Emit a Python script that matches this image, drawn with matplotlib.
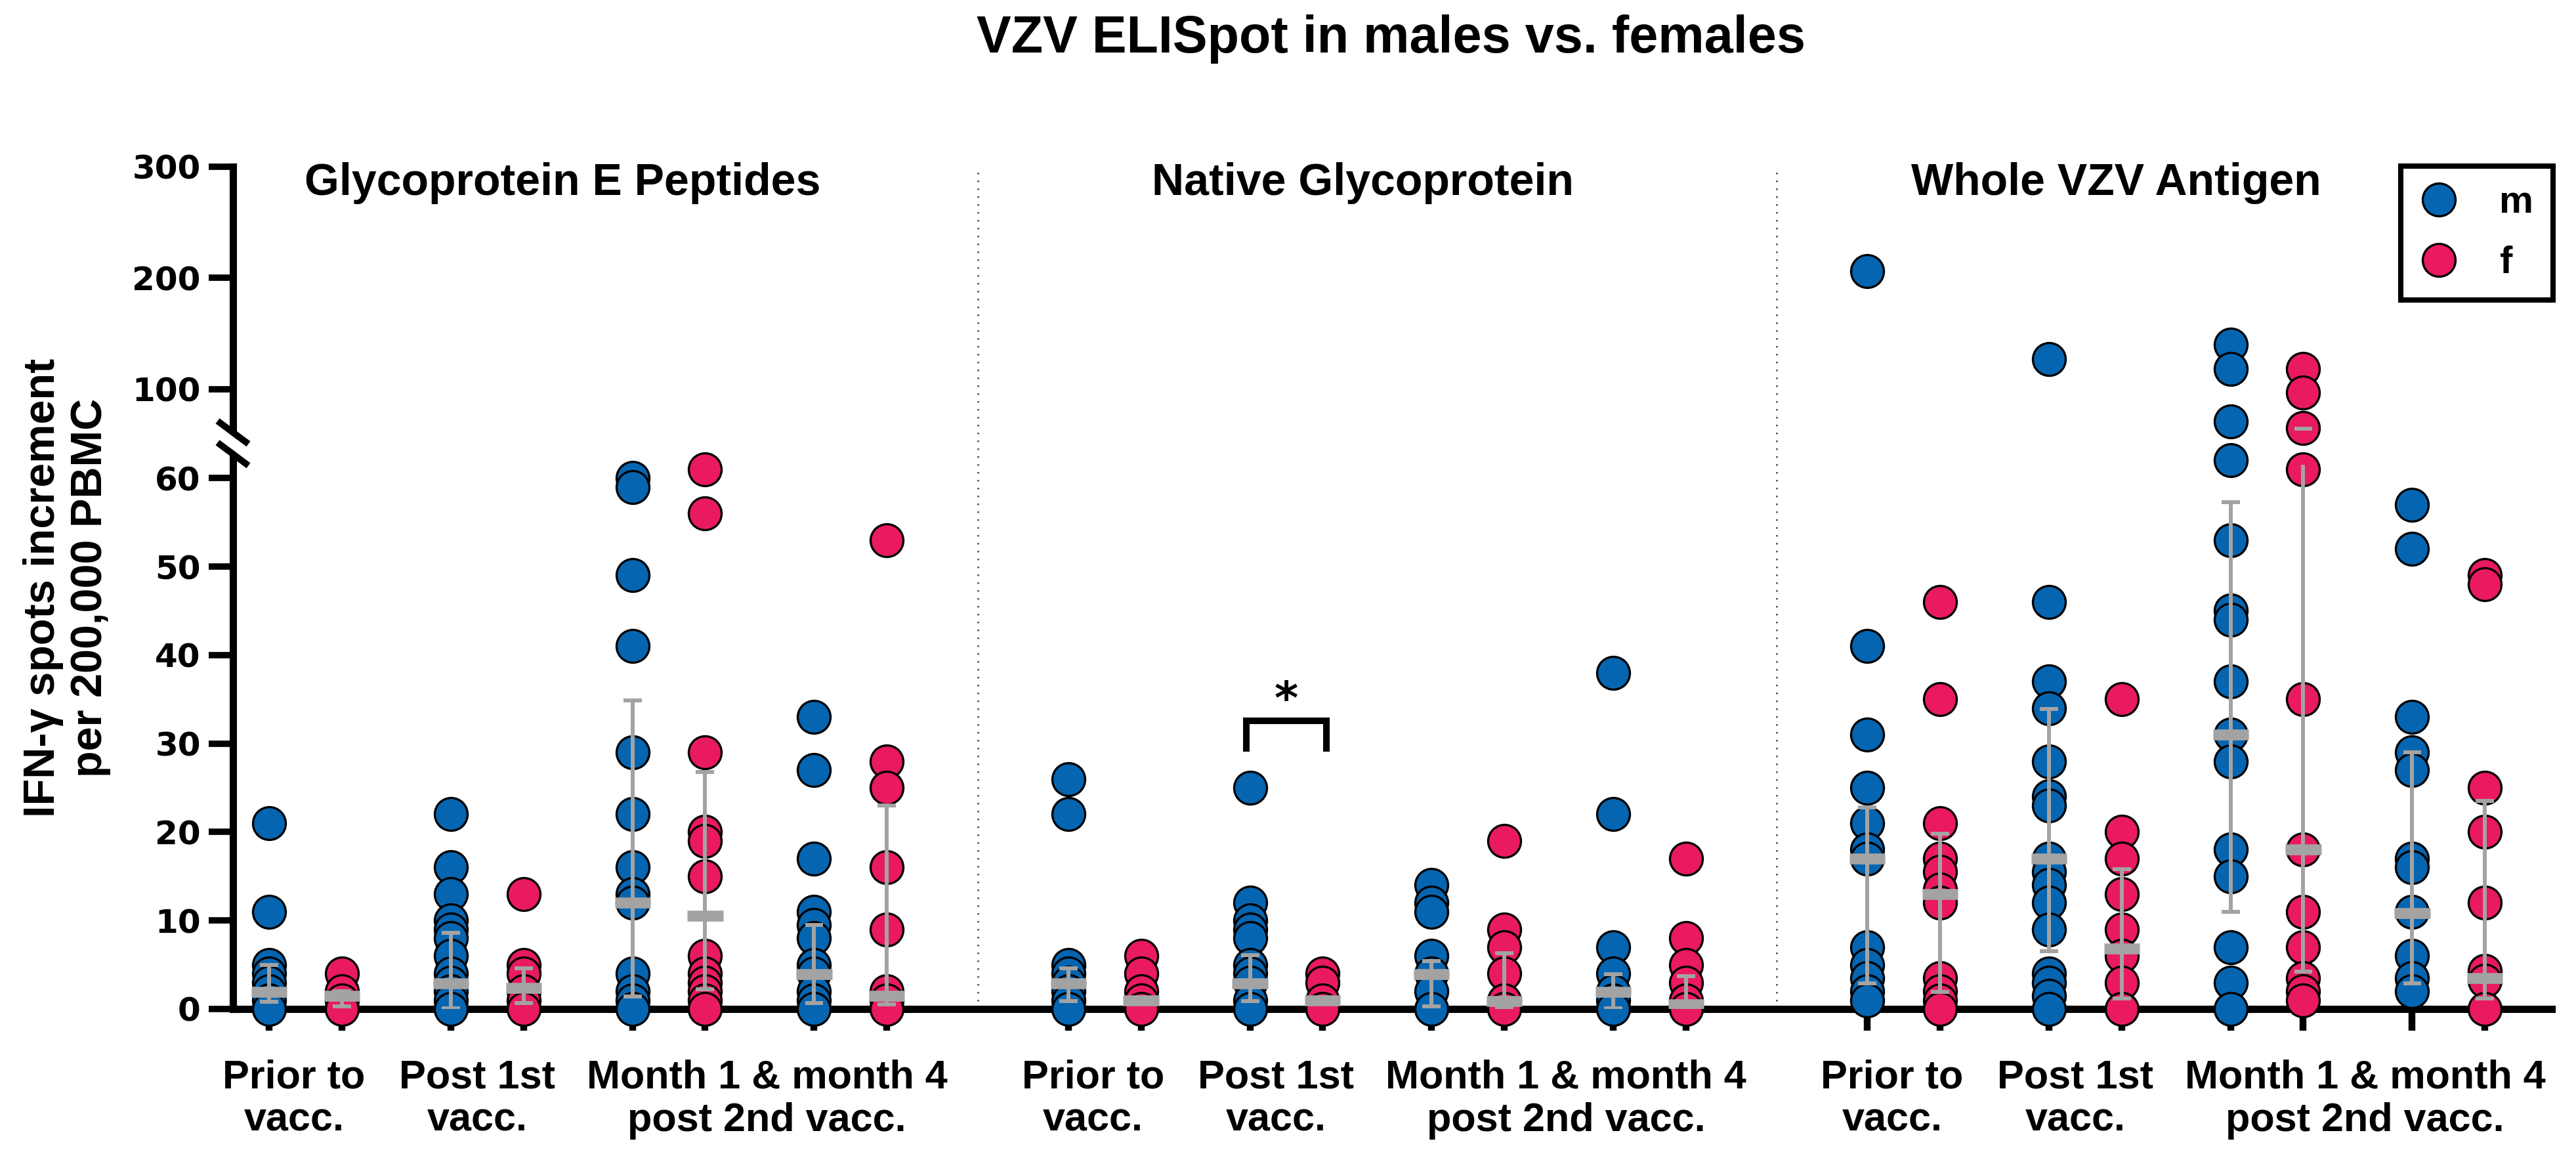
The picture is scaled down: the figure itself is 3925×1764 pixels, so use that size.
import numpy as np
import matplotlib

matplotlib.use("Agg")
import matplotlib.pyplot as plt
from matplotlib import transforms
from matplotlib.lines import Line2D

plt.rcParams["font.family"] = ["Liberation Sans", "DejaVu Sans"]

# ---------------------------------------------------------------- data ----
PANELS = ["Glycoprotein E Peptides", "Native Glycoprotein", "Whole VZV Antigen"]
TIME_LABELS = ["Prior to\nvacc.", "Post 1st\nvacc.", "Month 1 & month 4\npost 2nd vacc."]
SEXES = ["m", "f"]
Y_TICKS = [0, 10, 20, 30, 40, 50, 60, 100, 200, 300]

# spots per subject, [panel][timepoint]; timepoints = prior, post 1st, month 1, month 4
MALE = [
    [[21, 11, 5, 4, 3, 2, 1, 0],
     [22, 16, 13, 10, 9, 8, 6, 4, 3, 2, 1, 0],
     [60, 59, 49, 41, 29, 22, 16, 13, 12, 4, 2, 1, 0],
     [33, 27, 17, 11, 9.5, 8, 5, 4, 2, 1, 0]],
    [[26, 22, 5, 4, 3, 2, 1, 0],
     [25, 12, 10, 9, 8, 5, 4, 3, 1, 0],
     [14, 12, 11, 6, 4, 2, 0],
     [38, 22, 7, 4, 2, 1, 0]],
    [[206, 41, 31, 25, 21, 18, 17, 7, 5, 3.5, 2, 1],
     [127, 46, 37, 34, 28, 24, 23, 17, 15.5, 14, 12, 9, 4, 3, 1.5, 0],
     [140, 118, 71, 62, 53, 45, 44, 37, 31, 28, 18, 15, 7, 3, 0],
     [57, 52, 33, 29, 27, 17, 16, 11, 6, 3.5, 2]],
]
FEMALE = [
    [[4, 2, 1, 0],
     [13, 5, 4, 2, 1, 0],
     [61, 56, 29, 20, 19, 15, 6, 4, 3, 2, 1, 0],
     [53, 28, 25, 16, 9, 2, 1, 0]],
    [[6, 4, 2, 1, 0],
     [4, 3, 1, 0],
     [19, 9, 7, 4, 1, 0],
     [17, 8, 5, 3, 1, 0]],
    [[46, 35, 21, 17, 15.5, 13.5, 12, 3.5, 2, 1, 0],
     [35, 20, 17, 13, 9, 6, 3, 0],
     [118, 97, 65, 61, 35, 18, 11, 7, 3.5, 2, 1],
     [49, 48, 25, 20, 12, 4.3, 3.2, 0]],
]

# median with interquartile range, [panel][timepoint]
MED_M = [[1.9, 2.9, 12.0, 3.9], [2.9, 2.9, 3.9, 1.9], [17.0, 17.0, 31.0, 10.8]]
Q1_M = [[0.8, 0.1, 1.4, 0.7], [0.9, 0.9, 0.3, 0.1], [2.9, 6.5, 11.0, 2.9]]
Q3_M = [[5.0, 8.6, 34.9, 9.5], [4.6, 6.1, 5.4, 3.9], [22.8, 33.9, 57.3, 29.0]]
MED_F = [[1.5, 2.4, 10.5, 1.5], [1.0, 1.0, 0.9, 0.5], [13.0, 6.8, 18.0, 3.5]]
Q1_F = [[0.3, 0.7, 2.2, 0.5], [0.8, 1.0, 0.1, 0.3], [1.9, 1.2, 4.2, 1.2]]
Q3_F = [[2.0, 4.6, 26.8, 23.0], [1.2, 1.0, 6.3, 3.7], [19.8, 15.8, 64.4, 23.5]]

# significant m vs f difference: (panel, timepoint), bracket feet / top
SIG_GROUP = (1, 1)
SIG_BRACKET = (29.1, 32.6)

# ---------------------------------------------------------------- style ---
BLUE = "#0565B1"
PINK = "#EA1A5E"
GRAY = "#A3A3A3"
PANEL_STEP, TIME_STEP = 11.0, 2.5

# broken y axis: 0-62.5 and 62.7-300 drawn with different gains
BRK_V = [-100, 0, 62.5, 62.7, 300, 1000]
BRK_S = [-100, 0, 62.5, 65.36, 95.18, 95.18 + 700 * 0.1256]
GAP_LO = 61.5


def fwd(v):
    return np.interp(v, BRK_V, BRK_S)


def inv(s):
    return np.interp(s, BRK_S, BRK_V)


fig = plt.figure(figsize=(39.25, 17.64), dpi=100)
ax = fig.add_axes([355 / 3925, 1 - 1537 / 1764, (3888 - 355) / 3925, (1537 - 254) / 1764])
ax.set_yscale("function", functions=(fwd, inv))

xticks = []
for p in range(3):
    for t in range(4):
        base = PANEL_STEP * p + TIME_STEP * t
        groups = [
            (MALE[p][t], MED_M[p][t], Q1_M[p][t], Q3_M[p][t], BLUE),
            (FEMALE[p][t], MED_F[p][t], Q1_F[p][t], Q3_F[p][t], PINK),
        ]
        for s, (vals, med, q1, q3, col) in enumerate(groups):
            x = base + s
            xticks.append(x)
            ax.plot(np.full(len(vals), x), vals, "o", ms=36, mfc=col, mec="black",
                    mew=2.4, clip_on=False, zorder=3,
                    label=SEXES[s] if (p == 0 and t == 0) else None)
            ax.vlines(x, q1, min(q3, GAP_LO), color=GRAY, lw=4.3, zorder=4)
            ax.hlines([q1, q3], x - 0.126, x + 0.126, color=GRAY, lw=4.3,
                      zorder=4, capstyle="butt")
            ax.hlines(med, x - 0.245, x + 0.245, color=GRAY, lw=12, zorder=5,
                      capstyle="butt")

# significance bracket
sx = PANEL_STEP * SIG_GROUP[0] + TIME_STEP * SIG_GROUP[1]
lo, hi = SIG_BRACKET
ax.plot([sx - 0.05, sx - 0.05, sx + 1.05, sx + 1.05], [lo, hi, hi, lo], color="black",
        lw=7.2, solid_joinstyle="miter", solid_capstyle="butt", clip_on=False, zorder=6)
ax.text(sx + 0.5, hi + 0.8, "*", ha="center", va="baseline", fontsize=50,
        fontweight="bold", family="DejaVu Sans")

# panel dividers
for p in range(1, 3):
    ax.axvline(PANEL_STEP * p - 1.25, color="#444444", lw=1.8, ls=(0, (1, 3.8)), zorder=1)

ax.set_xlim(-0.5, 31.42)
ax.set_ylim(0, 300)
ax.set_yticks(Y_TICKS)
ax.set_yticklabels([str(v) for v in Y_TICKS])
ax.set_xticks(xticks)
ax.set_xticklabels([])
for side in ("top", "right"):
    ax.spines[side].set_visible(False)
for side in ("left", "bottom"):
    ax.spines[side].set_linewidth(8)
ax.tick_params(axis="y", length=27, width=7, pad=8.5, labelsize=36)
ax.tick_params(axis="x", length=24, width=7.5)
for lab in ax.get_yticklabels():
    lab.set_fontfamily("DejaVu Sans")
    lab.set_fontweight("bold")

# axis break marks
brk = fig.dpi_scale_trans + transforms.ScaledTranslation(-0.5, 62.6, ax.transData)
ax.add_line(Line2D([-0.30, 0.30], [0.223, -0.223], transform=brk, color="white",
                   lw=12, clip_on=False, zorder=7))
for dy in (0.165, -0.165):
    ax.add_line(Line2D([-0.235, 0.235], [dy + 0.175, dy - 0.175], transform=brk,
                       color="black", lw=7.2, solid_capstyle="butt", clip_on=False,
                       zorder=8))

# category labels and panel titles
xfig = transforms.blended_transform_factory(ax.transData, fig.transFigure)
LABEL_OFFSETS = [0.34, 2.86, 6.85]
for p in range(3):
    for lab, off in zip(TIME_LABELS, LABEL_OFFSETS):
        ax.text(PANEL_STEP * p + off, 1 - 1614 / 1764, lab, transform=xfig,
                ha="center", va="top", fontsize=44, fontweight="bold",
                multialignment="center", linespacing=1.18)
for name, xc in zip(PANELS, [4.04, 15.05, 25.42]):
    ax.text(xc, 1 - 297 / 1764, name, transform=xfig, ha="center", va="baseline",
            fontsize=49, fontweight="bold")

fig.text(2120 / 3925, 1 - 80 / 1764, "VZV ELISpot in males vs. females", ha="center",
         va="baseline", fontsize=57, fontweight="bold")
fig.text(102 / 3925, 1 - 895 / 1764, "IFN-γ spots increment\nper 200,000 PBMC",
         rotation=90, ha="center", va="center", fontsize=48, fontweight="bold",
         multialignment="center", linespacing=1.2)

leg = ax.legend(loc="upper left", bbox_to_anchor=(3658 / 3925, 1 - 253 / 1764),
                bbox_transform=fig.transFigure, borderaxespad=0, borderpad=0.5,
                handlelength=1.0, handletextpad=1.08, labelspacing=0.65,
                fancybox=False, framealpha=1, edgecolor="black",
                prop={"family": "Liberation Sans", "weight": "bold", "size": 42})
leg.get_frame().set_linewidth(5.8)
leg.set_zorder(10)

fig.savefig("out.png", dpi=100)
